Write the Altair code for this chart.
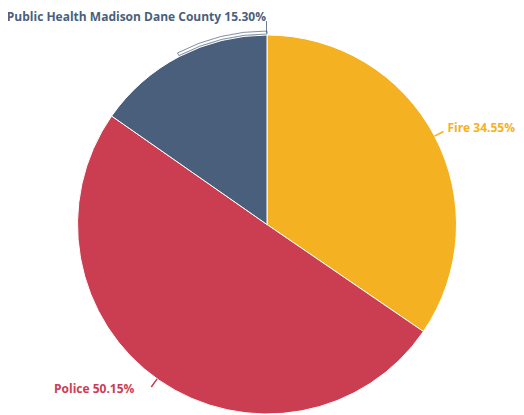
import math
import altair as alt
import pandas as pd

# ---- data ----
categories = ["Fire", "Police", "Public Health Madison Dane County"]
shares = [34.55, 50.15, 15.30]
label_texts = ["Fire 34.55%", "Police 50.15%", "Public Health Madison Dane County 15.30%"]
colors = ["#F4B223", "#CB3E52", "#4A5F7B"]

# ---- layout constants ----
W, H = 508, 407
CX, CY = 259, 216.5
R = 189.5
FONT = "Open Sans"
TWO_PI = 2 * math.pi

total = sum(shares)
starts, acc = [], 0.0
for s in shares:
    starts.append(acc)
    acc += s
mids = [(st + s / 2) / total * TWO_PI for st, s in zip(starts, shares)]

# label placement (layout): Police nudged, Public Health moved to the top
label_angles = [mids[0] + math.radians(-0.3), mids[1] + math.radians(4.3), TWO_PI - 0.005]
label_radii = [204.5, 211, 207.5]
aligns = ["left", "right", "right"]

df = pd.DataFrame({
    "category": categories,
    "share": shares,
    "label": label_texts,
    "order": list(range(len(categories))),
    "label_angle": label_angles,
    "label_r": label_radii,
    "align": aligns,
})

color_scale = alt.Scale(domain=categories, range=colors)
cx, cy = alt.value(CX), alt.value(CY)

pie = alt.Chart(df).mark_arc(outerRadius=R, stroke="white", strokeWidth=1).encode(
    theta=alt.Theta("share:Q", stack=True),
    color=alt.Color("category:N", scale=color_scale, legend=None),
    order=alt.Order("order:Q"),
    x=cx, y=cy,
)

# leader ticks (thin radial wedges at the slice middles)
tick_df = pd.DataFrame({
    "category": categories[:2],
    "a0": [mids[0] - 0.004, mids[1] + math.radians(0.8) - 0.004],
    "a1": [mids[0] + 0.004, mids[1] + math.radians(0.8) + 0.004],
})
ticks = alt.Chart(tick_df).mark_arc(innerRadius=R, outerRadius=R + 10).encode(
    theta=alt.Theta("a0:Q", scale=None, stack=False),
    theta2="a1:Q",
    color=alt.Color("category:N", scale=color_scale, legend=None),
    x=cx, y=cy,
)

# Public Health leader: curved band along the rim, then a short vertical stroke
ph_band_df = pd.DataFrame({"a0": [mids[2]], "a1": [TWO_PI]})
ph_band = alt.Chart(ph_band_df).mark_arc(
    innerRadius=R + 1, outerRadius=R + 4, fill="white", stroke=colors[2], strokeWidth=0.7
).encode(
    theta=alt.Theta("a0:Q", scale=None, stack=False),
    theta2="a1:Q",
    x=cx, y=cy,
)
ph_vert_df = pd.DataFrame({"a0": [TWO_PI - 0.004], "a1": [TWO_PI]})
ph_vert = alt.Chart(ph_vert_df).mark_arc(
    innerRadius=R + 2, outerRadius=R + 14, fill=colors[2]
).encode(
    theta=alt.Theta("a0:Q", scale=None, stack=False),
    theta2="a1:Q",
    x=cx, y=cy,
)

def label_layer(align):
    return alt.Chart(df).transform_filter(alt.datum.align == align).mark_text(
        align=align, baseline="middle",
        font=FONT, fontSize=12, fontWeight="bold",
    ).encode(
        theta=alt.Theta("label_angle:Q", scale=None, stack=False),
        radius=alt.Radius("label_r:Q", scale=None),
        text="label:N",
        color=alt.Color("category:N", scale=color_scale, legend=None),
        x=cx, y=cy,
    )

chart = alt.layer(pie, ticks, ph_band, ph_vert, label_layer("left"), label_layer("right")).properties(
    width=W, height=H, padding=0, autosize=alt.AutoSizeParams(type="none"),
).configure_view(stroke=None)

chart.save("out.html", embed_options={"renderer": "svg", "actions": False})
